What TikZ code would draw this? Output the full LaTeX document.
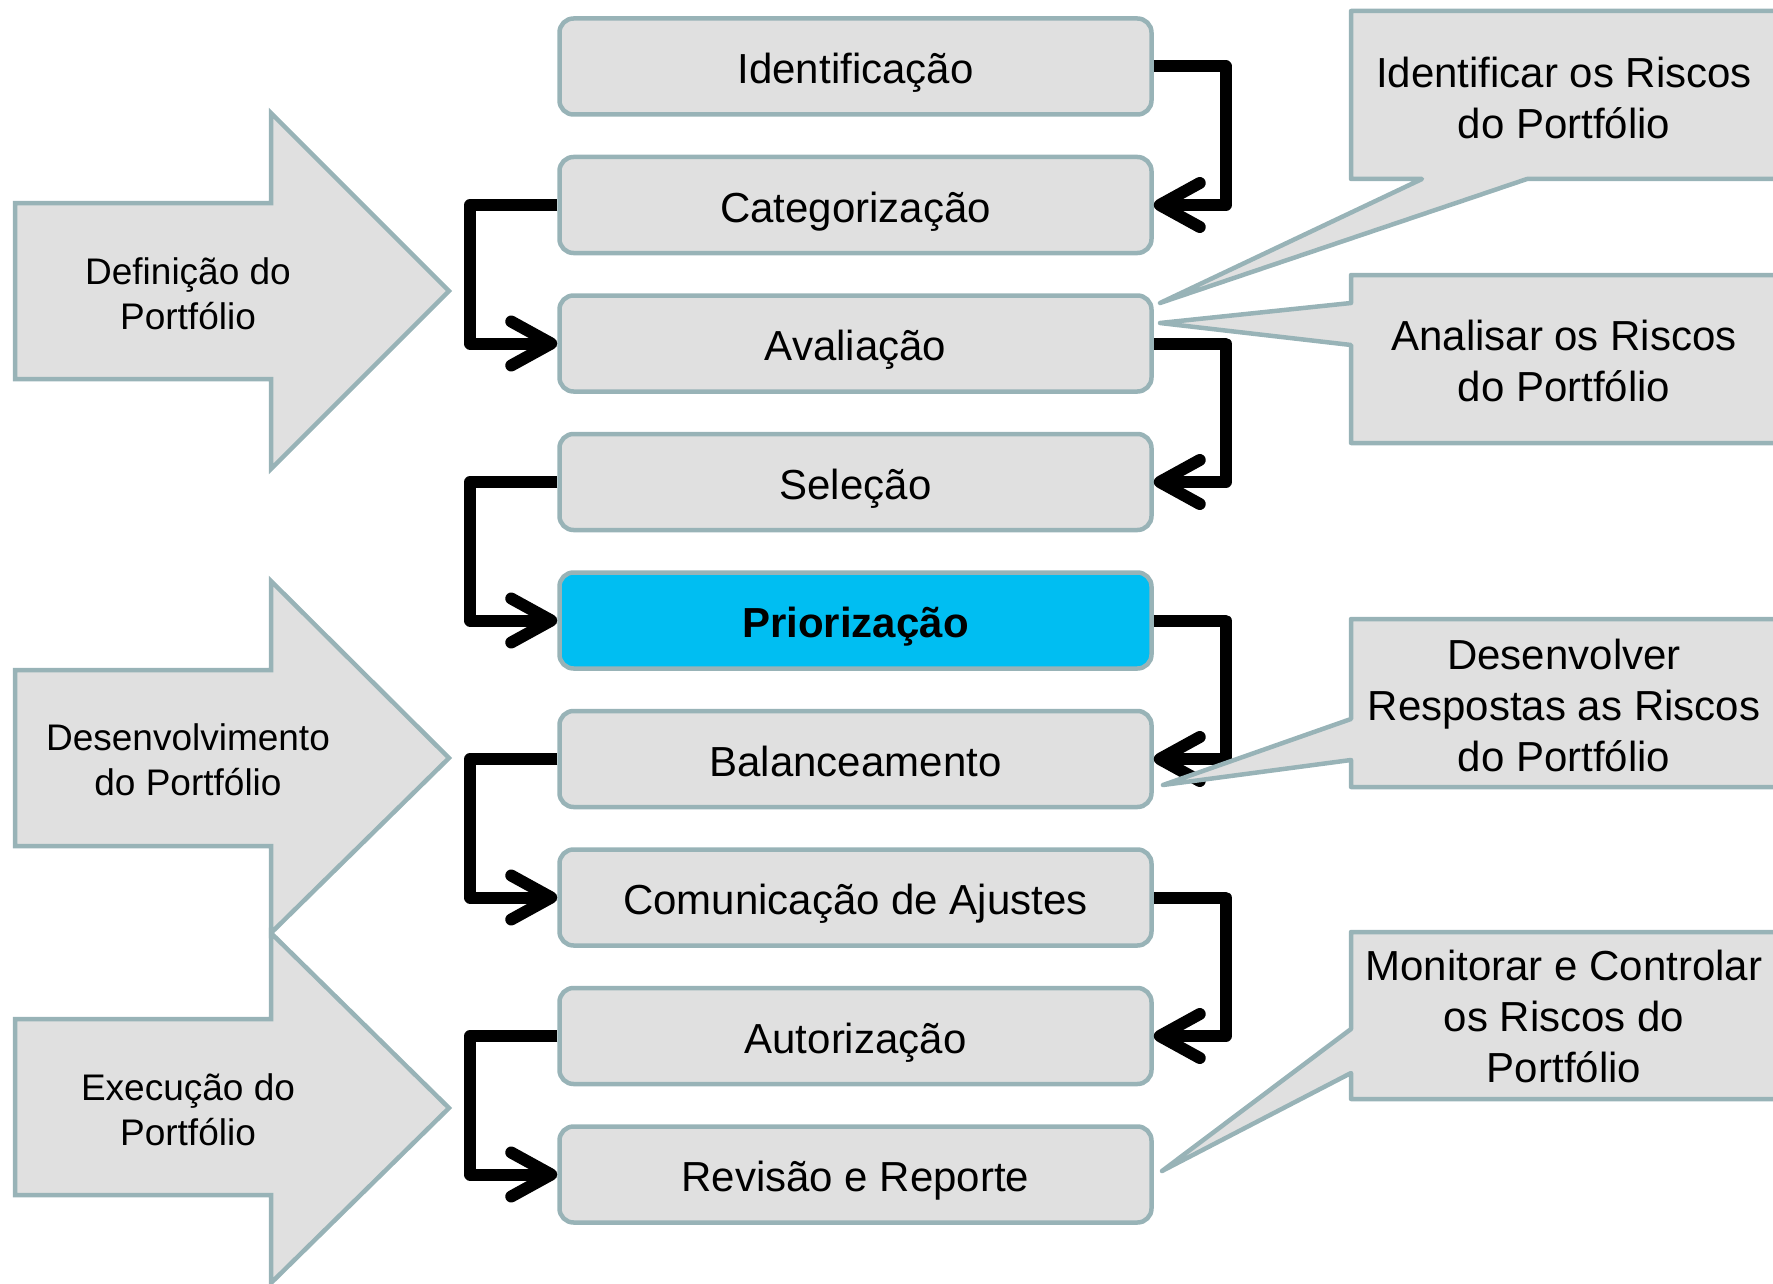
\documentclass[tikz,border=0pt]{standalone}
\usepackage{fontspec}
\setmainfont{Liberation Sans}
\usetikzlibrary{arrows.meta}

\definecolor{edgegray}{HTML}{98B3B7}
\definecolor{panelgray}{HTML}{E0E0E0}
\definecolor{hilite}{HTML}{00BEF2}

\begin{document}
\begin{tikzpicture}[x=0.5pt,y=-0.5pt,
  stagebox/.style={draw=edgegray, line width=2.25pt, fill=panelgray,
    rounded corners=7pt, minimum width=296pt, minimum height=48pt,
    inner sep=0pt, text height=17pt, text depth=0pt,
    font=\fontsize{21}{25.5}\selectfont},
  keybox/.style={stagebox, fill=hilite, font=\fontsize{21}{25.5}\selectfont\bfseries},
  flow/.style={line width=6pt, line join=round,
    -{Straight Barb[length=20pt,width=22pt,round]}},
  phase/.style={draw=edgegray, line width=2.25pt, fill=panelgray, line join=miter},
  phasetext/.style={align=center, inner sep=0pt, font=\fontsize{18.5}{22.5}\selectfont},
  note/.style={draw=edgegray, line width=2.25pt, fill=panelgray, line join=round},
  notetext/.style={align=center, inner sep=0pt, font=\fontsize{21}{25.5}\selectfont}
]
\useasboundingbox (0,0) rectangle (1773,1284);
\clip (0,0) rectangle (1773,1284);

% phase arrows on the left
\draw[phase] (15,203) -- (271,203) -- (271,113) -- (449,291) -- (271,469)
  -- (271,379) -- (15,379) -- cycle;
\draw[phase] (15,670) -- (271,670) -- (271,581) -- (449,758) -- (271,933)
  -- (271,846) -- (15,846) -- cycle;
\draw[phase] (15,1019) -- (271,1019) -- (271,933) -- (449,1108) -- (271,1283)
  -- (271,1195) -- (15,1195) -- cycle;
\node[phasetext] (pdef) at (188,294) {Definição do\\Portfólio};
\node[phasetext] (pdev) at (188,760) {Desenvolvimento\\do Portfólio};
\node[phasetext] (pexe) at (188,1110) {Execução do\\Portfólio};

% process steps
\node[stagebox] (b1) at (855.5,66.5)  {Identificação};
\node[stagebox] (b2) at (855.5,205)   {Categorização};
\node[stagebox] (b3) at (855.5,343.5) {Avaliação};
\node[stagebox] (b4) at (855.5,482)   {Seleção};
\node[keybox]   (b5) at (855.5,620.5) {Priorização};
\node[stagebox] (b6) at (855.5,759)   {Balanceamento};
\node[stagebox] (b7) at (855.5,897.5) {Comunicação de Ajustes};
\node[stagebox] (b8) at (855.5,1036)  {Autorização};
\node[stagebox] (b9) at (855.5,1174.5){Revisão e Reporte};

% zig-zag connectors
\draw[flow] (b1.east) -- ++(72,0) |- (b2.east);
\draw[flow] (b2.west) -- ++(-87,0) |- (b3.west);
\draw[flow] (b3.east) -- ++(72,0) |- (b4.east);
\draw[flow] (b4.west) -- ++(-87,0) |- (b5.west);
\draw[flow] (b5.east) -- ++(72,0) |- (b6.east);
\draw[flow] (b6.west) -- ++(-87,0) |- (b7.west);
\draw[flow] (b7.east) -- ++(72,0) |- (b8.east);
\draw[flow] (b8.west) -- ++(-87,0) |- (b9.west);

% risk callouts
\coordinate (t1) at (1160,303);
\coordinate (t2) at (1160,323);
\coordinate (t3) at (1163,785);
\coordinate (t4) at (1162,1171);
\draw[note] (1351,11) -- (1790,11) -- (1790,179) -- (1527,179) -- (t1)
  -- (1422,179) -- (1351,179) -- cycle;
\draw[note] (1351,275) -- (1790,275) -- (1790,443) -- (1351,443) -- (1351,345)
  -- (t2) -- (1351,303) -- cycle;
\draw[note] (1351,619) -- (1790,619) -- (1790,787) -- (1351,787) -- (1351,760)
  -- (t3) -- (1351,719) -- cycle;
\draw[note] (1351,932) -- (1790,932) -- (1790,1099) -- (1351,1099) -- (1351,1073)
  -- (t4) -- (1351,1029) -- cycle;
\node[notetext] (n1) at (1564,98)   {Identificar os Riscos\\do Portfólio};
\node[notetext] (n2) at (1564,361)  {Analisar os Riscos\\do Portfólio};
\node[notetext] (n3) at (1564,705)  {Desenvolver\\Respostas as Riscos\\do Portfólio};
\node[notetext] (n4) at (1564,1016) {Monitorar e Controlar\\os Riscos do\\Portfólio};
\end{tikzpicture}
\end{document}
